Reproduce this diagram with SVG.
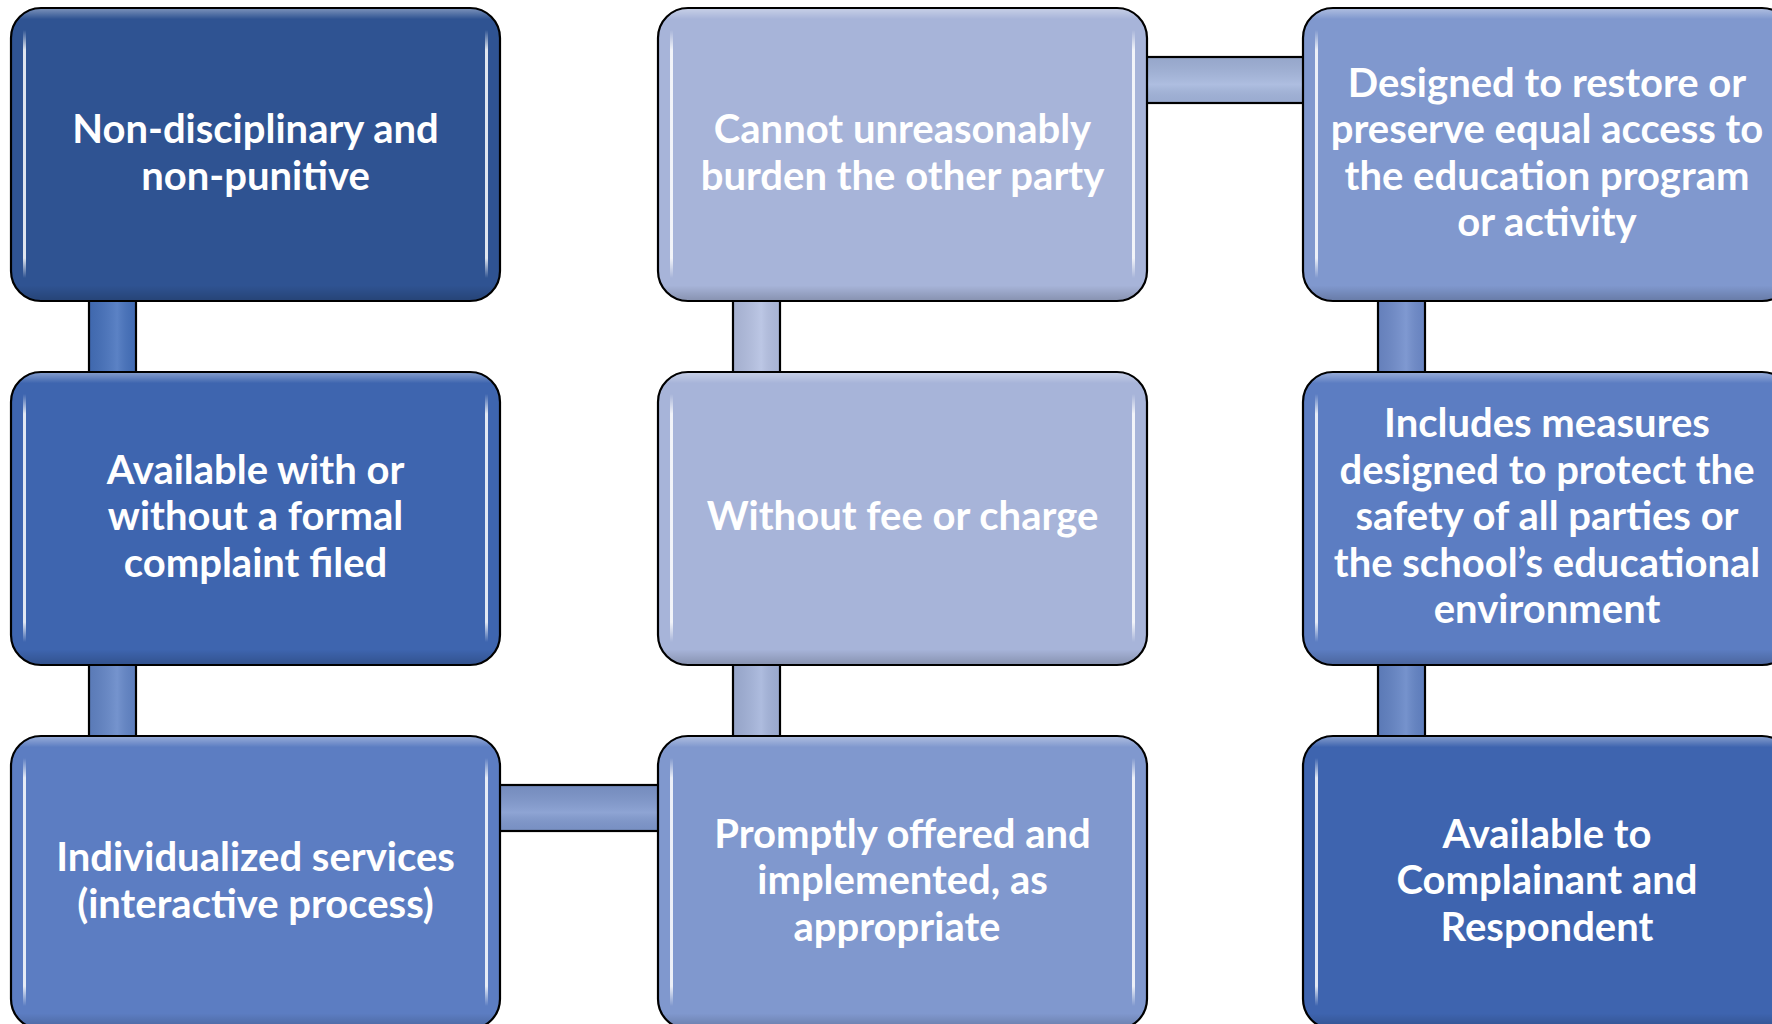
<svg xmlns="http://www.w3.org/2000/svg" width="1772" height="1024" viewBox="0 0 1772 1024">
<defs>
<style>
.box{stroke:#000;stroke-width:2.2}
.gloss{fill:url(#gloss)}
.hl{fill:url(#hl)}
.con{stroke:#000;stroke-width:2.2}
.conv{fill:url(#conV)}
.conh{fill:url(#conH)}
text{font-family:Lato,"Open Sans","Liberation Sans",sans-serif;font-weight:700;font-size:40px;fill:#fff;text-anchor:middle}
</style>
<linearGradient id="gloss" x1="0" y1="0" x2="0" y2="1">
<stop offset="0" stop-color="#fff" stop-opacity="0.35"/>
<stop offset="0.035" stop-color="#fff" stop-opacity="0"/>
<stop offset="0.95" stop-color="#000" stop-opacity="0"/>
<stop offset="1" stop-color="#000" stop-opacity="0.18"/>
</linearGradient>
<linearGradient id="hl" x1="0" y1="0" x2="0" y2="1">
<stop offset="0" stop-color="#fff" stop-opacity="0"/>
<stop offset="0.08" stop-color="#fff" stop-opacity="0.85"/>
<stop offset="0.92" stop-color="#fff" stop-opacity="0.85"/>
<stop offset="1" stop-color="#fff" stop-opacity="0"/>
</linearGradient>
<linearGradient id="conV" x1="0" y1="0" x2="1" y2="0">
<stop offset="0" stop-color="#000" stop-opacity="0.08"/>
<stop offset="0.6" stop-color="#fff" stop-opacity="0.12"/>
<stop offset="1" stop-color="#000" stop-opacity="0.05"/>
</linearGradient>
<linearGradient id="conH" x1="0" y1="0" x2="0" y2="1">
<stop offset="0" stop-color="#000" stop-opacity="0.08"/>
<stop offset="0.6" stop-color="#fff" stop-opacity="0.12"/>
<stop offset="1" stop-color="#000" stop-opacity="0.05"/>
</linearGradient>
</defs>
<rect width="1772" height="1024" fill="#fff"/>
<g id="connectors">
<rect class="con" x="89" y="290" width="47" height="92" fill="#4571BD"/><rect class="conv" x="89" y="290" width="47" height="92"/>
<rect class="con" x="89" y="654" width="47" height="92" fill="#6285C7"/><rect class="conv" x="89" y="654" width="47" height="92"/>
<rect class="con" x="733" y="290" width="47" height="92" fill="#B3BFE1"/><rect class="conv" x="733" y="290" width="47" height="92"/>
<rect class="con" x="733" y="654" width="47" height="92" fill="#A3B3DA"/><rect class="conv" x="733" y="654" width="47" height="92"/>
<rect class="con" x="1378" y="290" width="47" height="92" fill="#6E8BCB"/><rect class="conv" x="1378" y="290" width="47" height="92"/>
<rect class="con" x="1378" y="654" width="47" height="92" fill="#6384C6"/><rect class="conv" x="1378" y="654" width="47" height="92"/>
<rect class="con" x="490" y="785" width="178" height="46" fill="#7F98CE"/><rect class="conh" x="490" y="785" width="178" height="46"/>
<rect class="con" x="1136" y="57" width="177" height="46" fill="#A3B5DC"/><rect class="conh" x="1136" y="57" width="177" height="46"/>
</g>
<g id="n1">
<rect class="box" x="11" y="8" width="489" height="293" rx="30" fill="#2F5392"/>
<rect class="gloss" x="12" y="9" width="487" height="291" rx="29"/>
<rect class="hl" x="23" y="30" width="3" height="248"/><rect class="hl" x="485" y="30" width="3" height="248"/>
<text x="255.5" y="143">Non-disciplinary and</text>
<text x="255.5" y="189.5">non-punitive</text>
</g>
<g id="n2">
<rect class="box" x="11" y="372" width="489" height="293" rx="30" fill="#3E65AF"/>
<rect class="gloss" x="12" y="373" width="487" height="291" rx="29"/>
<rect class="hl" x="23" y="394" width="3" height="248"/><rect class="hl" x="485" y="394" width="3" height="248"/>
<text x="255.5" y="483.5">Available with or</text>
<text x="255.5" y="530">without a formal</text>
<text x="255.5" y="576.5">complaint filed</text>
</g>
<g id="n3">
<rect class="box" x="11" y="736" width="489" height="293" rx="30" fill="#5C7DC2"/>
<rect class="gloss" x="12" y="737" width="487" height="291" rx="29"/>
<rect class="hl" x="23" y="758" width="3" height="248"/><rect class="hl" x="485" y="758" width="3" height="248"/>
<text x="255.5" y="871">Individualized services</text>
<text x="255.5" y="917.5">(interactive process)</text>
</g>
<g id="n4">
<rect class="box" x="658" y="8" width="489" height="293" rx="30" fill="#A7B4D9"/>
<rect class="gloss" x="659" y="9" width="487" height="291" rx="29"/>
<rect class="hl" x="670" y="30" width="3" height="248"/><rect class="hl" x="1132" y="30" width="3" height="248"/>
<text x="902.5" y="143">Cannot unreasonably</text>
<text x="902.5" y="189.5">burden the other party</text>
</g>
<g id="n5">
<rect class="box" x="658" y="372" width="489" height="293" rx="30" fill="#A7B4D9"/>
<rect class="gloss" x="659" y="373" width="487" height="291" rx="29"/>
<rect class="hl" x="670" y="394" width="3" height="248"/><rect class="hl" x="1132" y="394" width="3" height="248"/>
<text x="902.5" y="530">Without fee or charge</text>
</g>
<g id="n6">
<rect class="box" x="658" y="736" width="489" height="293" rx="30" fill="#8098CE"/>
<rect class="gloss" x="659" y="737" width="487" height="291" rx="29"/>
<rect class="hl" x="670" y="758" width="3" height="248"/><rect class="hl" x="1132" y="758" width="3" height="248"/>
<text x="902.5" y="847.5">Promptly offered and</text>
<text x="902.5" y="894">implemented, as</text>
<text x="897" y="940.5">appropriate</text>
</g>
<g id="n7">
<rect class="box" x="1303" y="8" width="489" height="293" rx="30" fill="#8098CE"/>
<rect class="gloss" x="1304" y="9" width="487" height="291" rx="29"/>
<rect class="hl" x="1315" y="30" width="3" height="248"/>
<text x="1547" y="96.5">Designed to restore or</text>
<text x="1547" y="143">preserve equal access to</text>
<text x="1547" y="189.5">the education program</text>
<text x="1547" y="236">or activity</text>
</g>
<g id="n8">
<rect class="box" x="1303" y="372" width="489" height="293" rx="30" fill="#5C7DC2"/>
<rect class="gloss" x="1304" y="373" width="487" height="291" rx="29"/>
<rect class="hl" x="1315" y="394" width="3" height="248"/>
<text x="1547" y="437">Includes measures</text>
<text x="1547" y="483.5">designed to protect the</text>
<text x="1547" y="530">safety of all parties or</text>
<text x="1547" y="576.5">the school’s educational</text>
<text x="1547" y="623">environment</text>
</g>
<g id="n9">
<rect class="box" x="1303" y="736" width="489" height="293" rx="30" fill="#3E64AF"/>
<rect class="gloss" x="1304" y="737" width="487" height="291" rx="29"/>
<rect class="hl" x="1315" y="758" width="3" height="248"/>
<text x="1547" y="847.5">Available to</text>
<text x="1547" y="894">Complainant and</text>
<text x="1547" y="940.5">Respondent</text>
</g>
</svg>
